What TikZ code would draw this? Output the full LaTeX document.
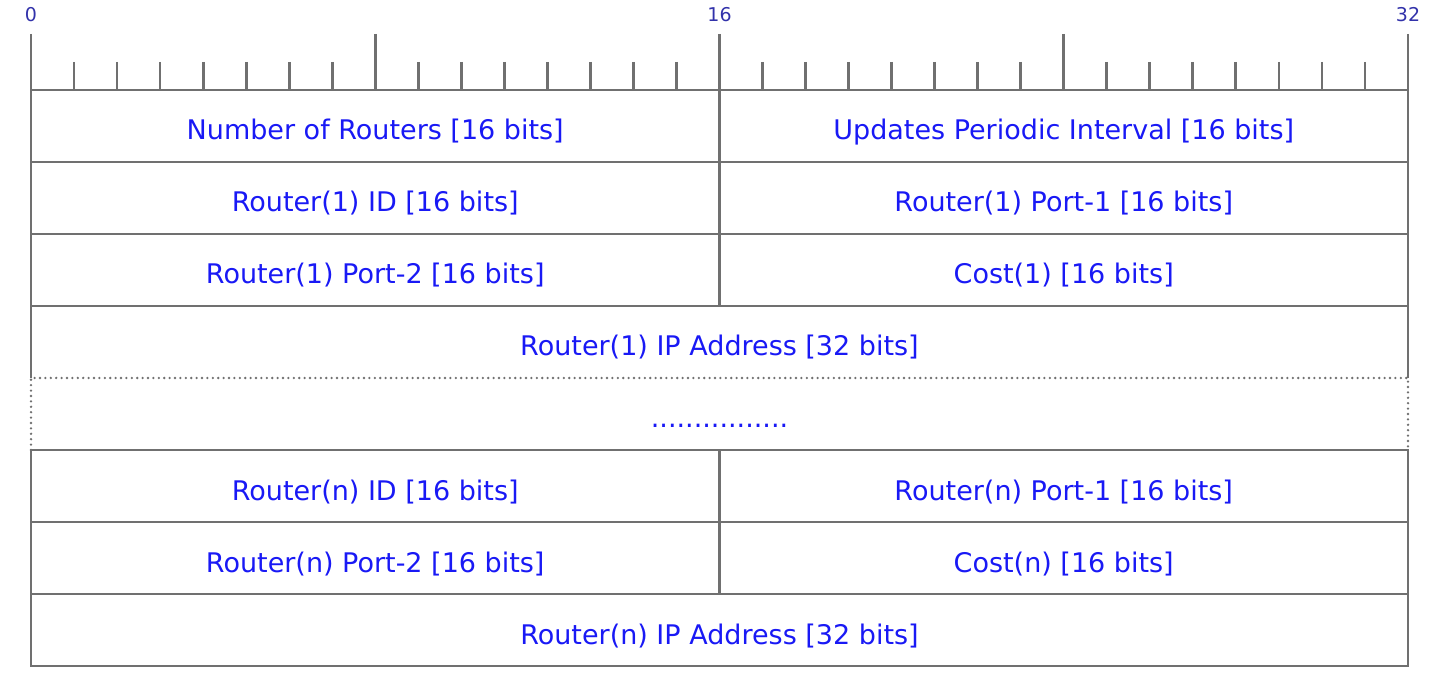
\documentclass[tikz,border=0pt]{standalone}
\usepackage{fontspec}
\setmainfont{DejaVu Sans}
\definecolor{linegray}{RGB}{112,112,112}
\definecolor{fieldblue}{RGB}{25,25,245}
\definecolor{rulerblue}{RGB}{50,50,170}
\tikzset{
  wire/.style={draw=linegray,line width=2.8pt},
  dotwire/.style={draw=linegray,line width=2.6pt,line cap=round,dash pattern=on 0pt off 5.4pt},
  lbl/.style={text=fieldblue,anchor=base,inner sep=0pt,font=\fontsize{27}{32}\selectfont},
  bitlbl/.style={text=rulerblue,anchor=base,inner sep=0pt,font=\fontsize{19}{22}\selectfont}
}
\begin{document}
\begin{tikzpicture}[x=1pt,y=-1pt]
  \useasboundingbox (0,0) rectangle (1454,684);
  % ruler
  \node[bitlbl] (b0) at (31,22) {0};
  \node[bitlbl] (b16) at (719.5,22) {16};
  \node[bitlbl] (b32) at (1408,22) {32};
  \draw[wire] (31,90) -- (1408,90);
  \foreach \i in {1,...,31} {
    \draw[wire] ({31+43.031*\i},62) -- ({31+43.031*\i},90);
  }
  \foreach \i in {0,8,16,24,32} {
    \draw[wire] ({31+43.031*\i},34) -- ({31+43.031*\i},90);
  }
  % first router
  \draw[wire] (31,378) -- (31,90) -- (1408,90) -- (1408,378);
  \draw[wire] (31,162) -- (1408,162);
  \draw[wire] (31,234) -- (1408,234);
  \draw[wire] (31,306) -- (1408,306);
  \draw[wire] (719.5,90) -- (719.5,306);
  \node[lbl] (nrouters) at (375.25,140) {Number of Routers [16 bits]};
  \node[lbl] (interval) at (1063.75,140) {Updates Periodic Interval [16 bits]};
  \node[lbl] (id1) at (375.25,212) {Router(1) ID [16 bits]};
  \node[lbl] (porta1) at (1063.75,212) {Router(1) Port-1 [16 bits]};
  \node[lbl] (portb1) at (375.25,284) {Router(1) Port-2 [16 bits]};
  \node[lbl] (cost1) at (1063.75,284) {Cost(1) [16 bits]};
  \node[lbl] (ip1) at (719.5,356) {Router(1) IP Address [32 bits]};
  % gap
  \draw[dotwire] (31,450) -- (31,378) -- (1408,378) -- (1408,450);
  \node[lbl] (gap) at (719.5,428) {................};
  % last router
  \draw[wire] (31,450) rectangle (1408,666);
  \draw[wire] (31,522) -- (1408,522);
  \draw[wire] (31,594) -- (1408,594);
  \draw[wire] (719.5,450) -- (719.5,594);
  \node[lbl] (idn) at (375.25,500) {Router(n) ID [16 bits]};
  \node[lbl] (portan) at (1063.75,500) {Router(n) Port-1 [16 bits]};
  \node[lbl] (portbn) at (375.25,572) {Router(n) Port-2 [16 bits]};
  \node[lbl] (costn) at (1063.75,572) {Cost(n) [16 bits]};
  \node[lbl] (ipn) at (719.5,644) {Router(n) IP Address [32 bits]};
\end{tikzpicture}
\end{document}
